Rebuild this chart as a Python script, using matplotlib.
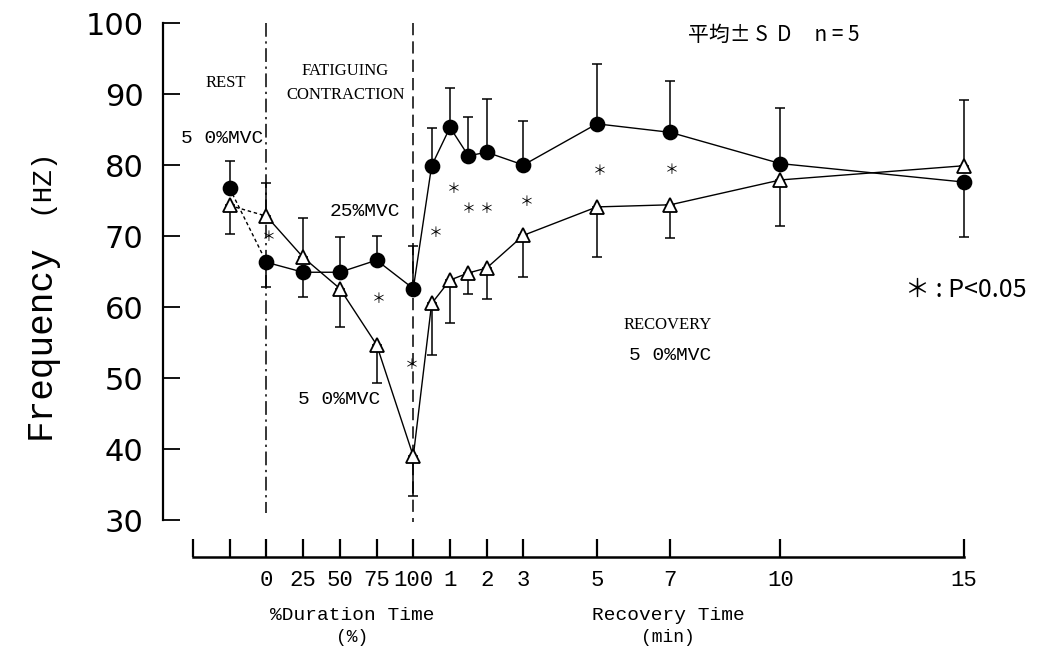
import numpy as np
import matplotlib
matplotlib.use('Agg')
import matplotlib.pyplot as plt

# Fatiguing contraction (% of duration) and recovery (min)
dur_labels = ['REST', '0', '25', '50', '75', '100']
dur_pct = [-25, 0, 25, 50, 75, 100]        # REST placed one step before 0
rec_min = [0.5, 1, 1.5, 2, 3, 5, 7, 10, 15]

# 25%MVC (filled circles), mean and SD
mvc25_dur = [76.7, 66.3, 64.9, 64.9, 66.6, 62.6]
mvc25_rec = [79.9, 85.3, 81.3, 81.8, 80.0, 85.8, 84.6, 80.2, 77.6]
mvc25_dur_sd = [3.9, 3.5, 3.5, 5.0, 3.4, 6.0]
mvc25_rec_sd = [5.3, 5.5, 5.5, 7.5, 6.2, 8.4, 7.3, 7.9, 7.8]
mvc25_dur_side = [1, -1, -1, 1, 1, 1]      # +1 bar drawn up, -1 bar drawn down
mvc25_rec_side = [1, 1, 1, 1, 1, 1, 1, 1, -1]

# 50%MVC (open triangles), mean and SD
mvc50_dur = [74.3, 72.8, 67.0, 62.6, 54.7, 39.0]
mvc50_rec = [60.5, 63.8, 64.8, 65.5, 70.1, 74.1, 74.4, 77.9, 79.9]
mvc50_dur_sd = [4.0, 4.6, 5.5, 5.4, 5.4, 5.6]
mvc50_rec_sd = [7.2, 6.0, 3.0, 4.3, 5.9, 7.0, 4.7, 6.5, 9.3]
mvc50_dur_side = [-1, 1, 1, -1, -1, -1]
mvc50_rec_side = [-1, -1, -1, -1, -1, -1, -1, -1, 1]

# significance marks (x position on the axis, y value)
sig_x = [0.05, 3.05, 3.95, 4.6, 5.1, 5.5, 6.0, 7.1, 9.07, 11.05]
sig_y = [69.9, 61.1, 51.8, 70.4, 76.6, 73.8, 73.8, 74.8, 79.1, 79.3]

# bottom axis ticks
xtick_pos = [-2, -1, 0, 1, 2, 3, 4, 5, 6, 7, 9, 11, 14, 19]
xtick_lab = ['', '', '0', '25', '50', '75', '100', '1', '2', '3', '5', '7', '10', '15']
yticks = [30, 40, 50, 60, 70, 80, 90, 100]


def axis_pos(pct=None, minutes=None):
    # one axis step = 25 % of duration = 1 min of recovery
    if pct is not None:
        return np.asarray(pct) / 25.0
    return 4 + np.asarray(minutes, dtype=float)


def side_err(sd, side):
    sd = np.asarray(sd)
    side = np.asarray(side)
    lower = np.where(side < 0, sd, 0)
    upper = np.where(side > 0, sd, 0)
    return [lower, upper]


x_dur = axis_pos(pct=dur_pct)
x_rec = axis_pos(minutes=rec_min)
x_all = np.concatenate([x_dur, x_rec])

fig = plt.figure(figsize=(10.38, 6.52), dpi=100)
ax = fig.add_axes([163 / 1038, 1 - 557 / 652, (982.4 - 163) / 1038, (557 - 15.9) / 652])
ax.set_xlim(-2.817, 19.5)
ax.set_ylim(24.8, 101)

mono = 'Liberation Mono'
serif = 'Liberation Serif'
cjk = ['Noto Sans CJK JP', 'DejaVu Sans']

# phase boundaries
ax.plot([0, 0], [100, 31], color='black', lw=1.1, linestyle=(0, (9, 3, 1.5, 3)))
ax.plot([4, 4], [100, 29.7], color='black', lw=1.1, linestyle=(0, (8, 4)))

for mean_d, mean_r, sd_d, sd_r, sd_side_d, sd_side_r, mk, fc in [
        (mvc25_dur, mvc25_rec, mvc25_dur_sd, mvc25_rec_sd, mvc25_dur_side, mvc25_rec_side, 'o', 'black'),
        (mvc50_dur, mvc50_rec, mvc50_dur_sd, mvc50_rec_sd, mvc50_dur_side, mvc50_rec_side, '^', 'white')]:
    y_all = np.concatenate([mean_d, mean_r])
    err = side_err(list(sd_d) + list(sd_r), list(sd_side_d) + list(sd_side_r))
    ax.errorbar(x_all, y_all, yerr=err, fmt='none', ecolor='black',
                elinewidth=1.1, capsize=3.5, capthick=1.1, zorder=2)
    # rest -> start joined with a dotted line
    ax.plot(x_all[:2], y_all[:2], color='black', lw=1.0, linestyle=(0, (2.5, 2)), zorder=3)
    ax.plot(x_all[1:], y_all[1:], color='black', lw=1.0, zorder=3)
    ax.plot(x_all, y_all, linestyle='none', marker=mk, markersize=10 if mk == 'o' else 10.5,
            markerfacecolor=fc, markeredgecolor='black', markeredgewidth=1.3, zorder=4)

for sx, sy in zip(sig_x, sig_y):
    ax.text(sx, sy, '＊', family=cjk, fontsize=10, ha='center', va='center')

# spines and ticks
for s in ['top', 'right']:
    ax.spines[s].set_visible(False)
ax.spines['left'].set_bounds(30, 100)
ax.spines['bottom'].set_bounds(-2, 19)
ax.spines['left'].set_linewidth(1.6)
ax.spines['bottom'].set_linewidth(1.8)

ax.set_yticks(yticks)
ax.set_yticklabels([str(v) for v in yticks], family='DejaVu Sans', fontsize=22)
ax.tick_params(axis='y', direction='in', length=12, width=1.3, pad=14)
ax.set_xticks(xtick_pos)
ax.set_xticklabels(xtick_lab, family=mono, fontsize=16)
ax.tick_params(axis='x', direction='in', length=13, width=1.6, pad=9)

# phase and condition labels
ax.text(-1.12, 91.5, 'REST', family=serif, fontsize=12, ha='center', va='center')
ax.text(2.15, 93.3, 'FATIGUING', family=serif, fontsize=12, ha='center', va='center')
ax.text(2.15, 89.9, 'CONTRACTION', family=serif, fontsize=12, ha='center', va='center')
ax.text(-0.08, 83.8, '5 0%MVC', family=mono, fontsize=14, ha='right', va='center')
ax.text(2.68, 73.4, '25%MVC', family=mono, fontsize=14, ha='center', va='center')
ax.text(1.99, 47.0, '5 0%MVC', family=mono, fontsize=14, ha='center', va='center')
ax.text(10.92, 57.5, 'RECOVERY', family=serif, fontsize=12, ha='center', va='center')
ax.text(11.0, 53.2, '5 0%MVC', family=mono, fontsize=14, ha='center', va='center')
ax.text(13.81, 98.3, '平均± S  D     n = 5', family=cjk, fontsize=15, ha='center', va='center')
ax.text(17.4, 62.4, '＊ : P<0.05', family=cjk, fontsize=18, ha='left', va='center')

# axis titles
fig.text(40 / 1038, 1 - 342 / 652, 'Frequency', family=mono, fontsize=26,
         rotation=90, ha='center', va='center')
fig.text(40 / 1038, 1 - 181 / 652, '(HZ)', family=mono, fontsize=20,
         rotation=90, ha='center', va='center')
fig.text(352 / 1038, 1 - 615 / 652, '%Duration Time', family=mono, fontsize=14,
         ha='center', va='center')
fig.text(352 / 1038, 1 - 638 / 652, '(%)', family=mono, fontsize=13,
         ha='center', va='center')
fig.text(668 / 1038, 1 - 615 / 652, 'Recovery Time', family=mono, fontsize=14,
         ha='center', va='center')
fig.text(668 / 1038, 1 - 638 / 652, '(min)', family=mono, fontsize=13,
         ha='center', va='center')

fig.savefig('out.png', dpi=100)
